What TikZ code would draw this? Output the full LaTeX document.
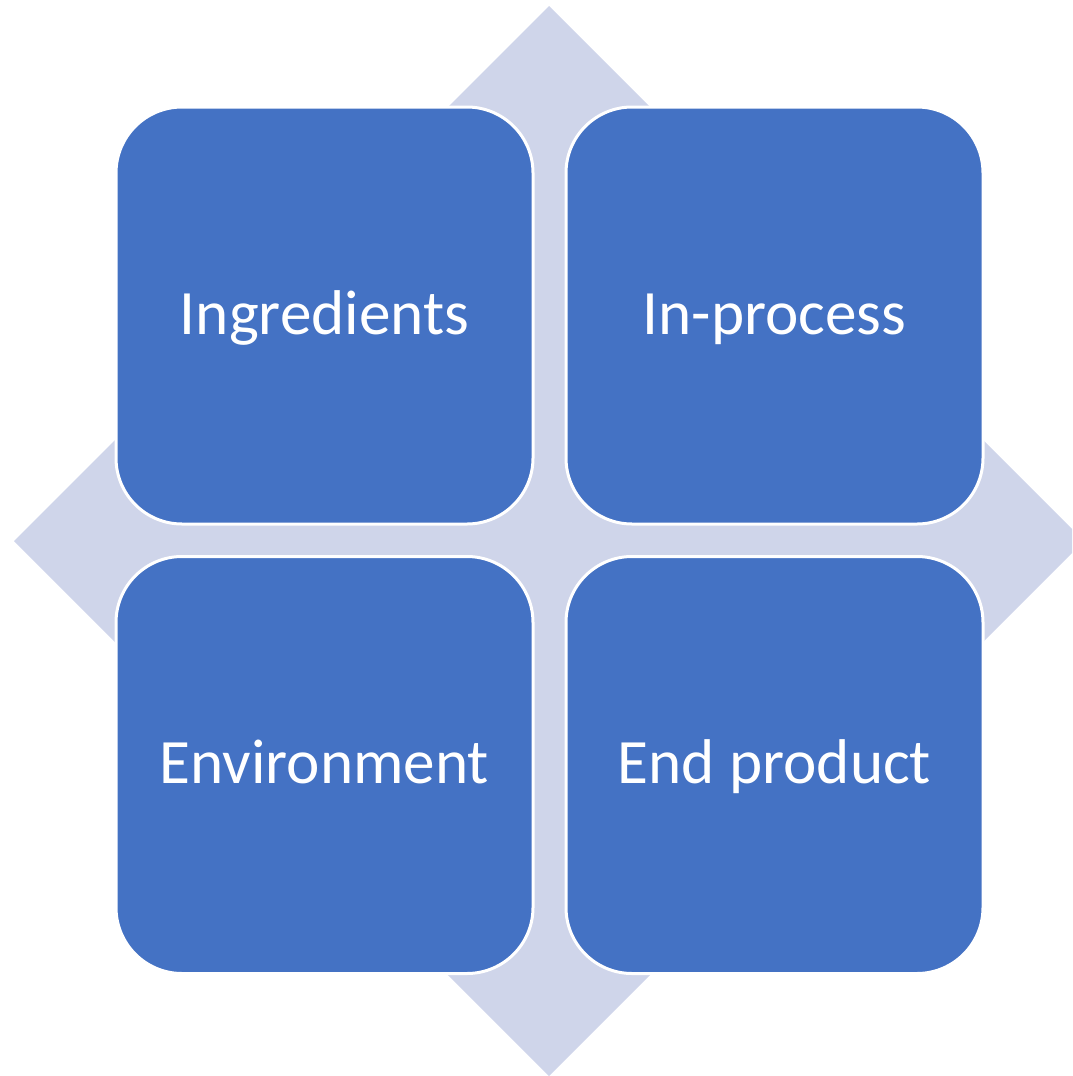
\documentclass[tikz,border=0pt]{standalone}
\usepackage{fontspec}
\setmainfont{Carlito}
\definecolor{BoxClr}{RGB}{68,114,196}
\definecolor{BackClr}{RGB}{207,213,234}

\begin{document}
\begin{tikzpicture}[x=0.5pt,y=-0.5pt,
  quad/.style={draw=white,line width=1.5pt,fill=BoxClr,rounded corners=33pt,
    minimum width=208.5pt,minimum height=208.5pt,inner sep=0pt,
    text height=25.5pt,text depth=7pt,
    text=white,font=\fontsize{31.6}{36}\selectfont}]
\useasboundingbox (0,0) rectangle (1072,1076);
\clip (0,0) rectangle (1072,1076);

% background diamond
\fill[BackClr] (549,6) -- (1084,541) -- (549,1076) -- (14,541) -- cycle;

% four blocks
\node[quad] (ingr) at (324.5,315.5) {Ingredients};
\node[quad] (proc) at (774.5,315.5) {In-process};
\node[quad] (envi) at (324.5,765) {Environment};
\node[quad] (prod) at (774.5,765) {End product};

\end{tikzpicture}
\end{document}
